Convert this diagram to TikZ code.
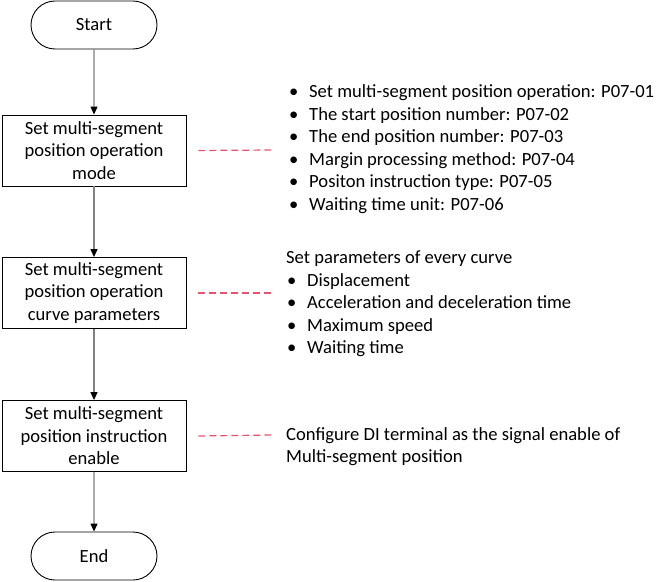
\documentclass[tikz,border=0pt]{standalone}
\usepackage{fontspec}
\setmainfont{Carlito}
\usetikzlibrary{arrows.meta,shapes.misc,calc}
\definecolor{dashred}{RGB}{232,82,110}
\definecolor{linegray}{RGB}{128,128,128}
\tikzset{
  txt/.style={font=\fontsize{18.6bp}{22.5bp}\selectfont},
  term/.style={txt,draw=black,line width=0.9bp,rounded rectangle,minimum width=126bp,minimum height=48bp,inner sep=0pt},
  procbox/.style={txt,draw=black,line width=0.9bp,rectangle,minimum width=184bp,minimum height=71bp,align=center,inner sep=0pt},
  flow/.style={draw=linegray,line width=1.3bp,-{Triangle[width=7bp,length=8bp,color=black]}},
  dashline/.style={draw=dashred,line width=1.2bp,dash pattern=on 7bp off 4bp},
  note/.style={txt,anchor=north west,align=left,inner sep=0pt},
}
\newcommand{\bitem}{\makebox[21bp][l]{\hspace{1bp}•}}
\begin{document}
\begin{tikzpicture}[x=1bp,y=-1bp]
\useasboundingbox (0,0) rectangle (665,582);
\node[term] (start) at (94,25) {Start};
\node[procbox] (b1) at (94,150.5) {Set multi-segment\\position operation\\mode};
\node[procbox] (b2) at (94,293) {Set multi-segment\\position operation\\curve parameters};
\node[procbox] (b3) at (94,436) {Set multi-segment\\position instruction\\enable};
\node[term] (end) at (94,556) {End};
\draw[flow] (start) -- (b1);
\draw[flow] (b1) -- (b2);
\draw[flow] (b2) -- (b3);
\draw[flow] (b3) -- (end);
\node[note] (l1) at (288,82) {\strut\bitem Set multi-segment position operation: P07-01\\
\bitem The start position number: P07-02\\
\bitem The end position number: P07-03\\
\bitem Margin processing method: P07-04\\
\bitem Positon instruction type: P07-05\\
\bitem Waiting time unit: P07-06};
\node[note] (l2) at (286,248) {\strut Set parameters of every curve\\
\bitem Displacement\\
\bitem Acceleration and deceleration time\\
\bitem Maximum speed\\
\bitem Waiting time};
\node[note] (l3) at (286,424.5) {\strut Configure DI terminal as the signal enable of\\
Multi-segment position};
\coordinate (e1) at (272,150);
\coordinate (e2) at (272,293);
\coordinate (e3) at (272,435);
\draw[dashline] ([xshift=12bp]b1.east) -- (e1);
\draw[dashline] ([xshift=12bp]b2.east) -- (e2);
\draw[dashline] ([xshift=12bp]b3.east) -- (e3);
\end{tikzpicture}
\end{document}
